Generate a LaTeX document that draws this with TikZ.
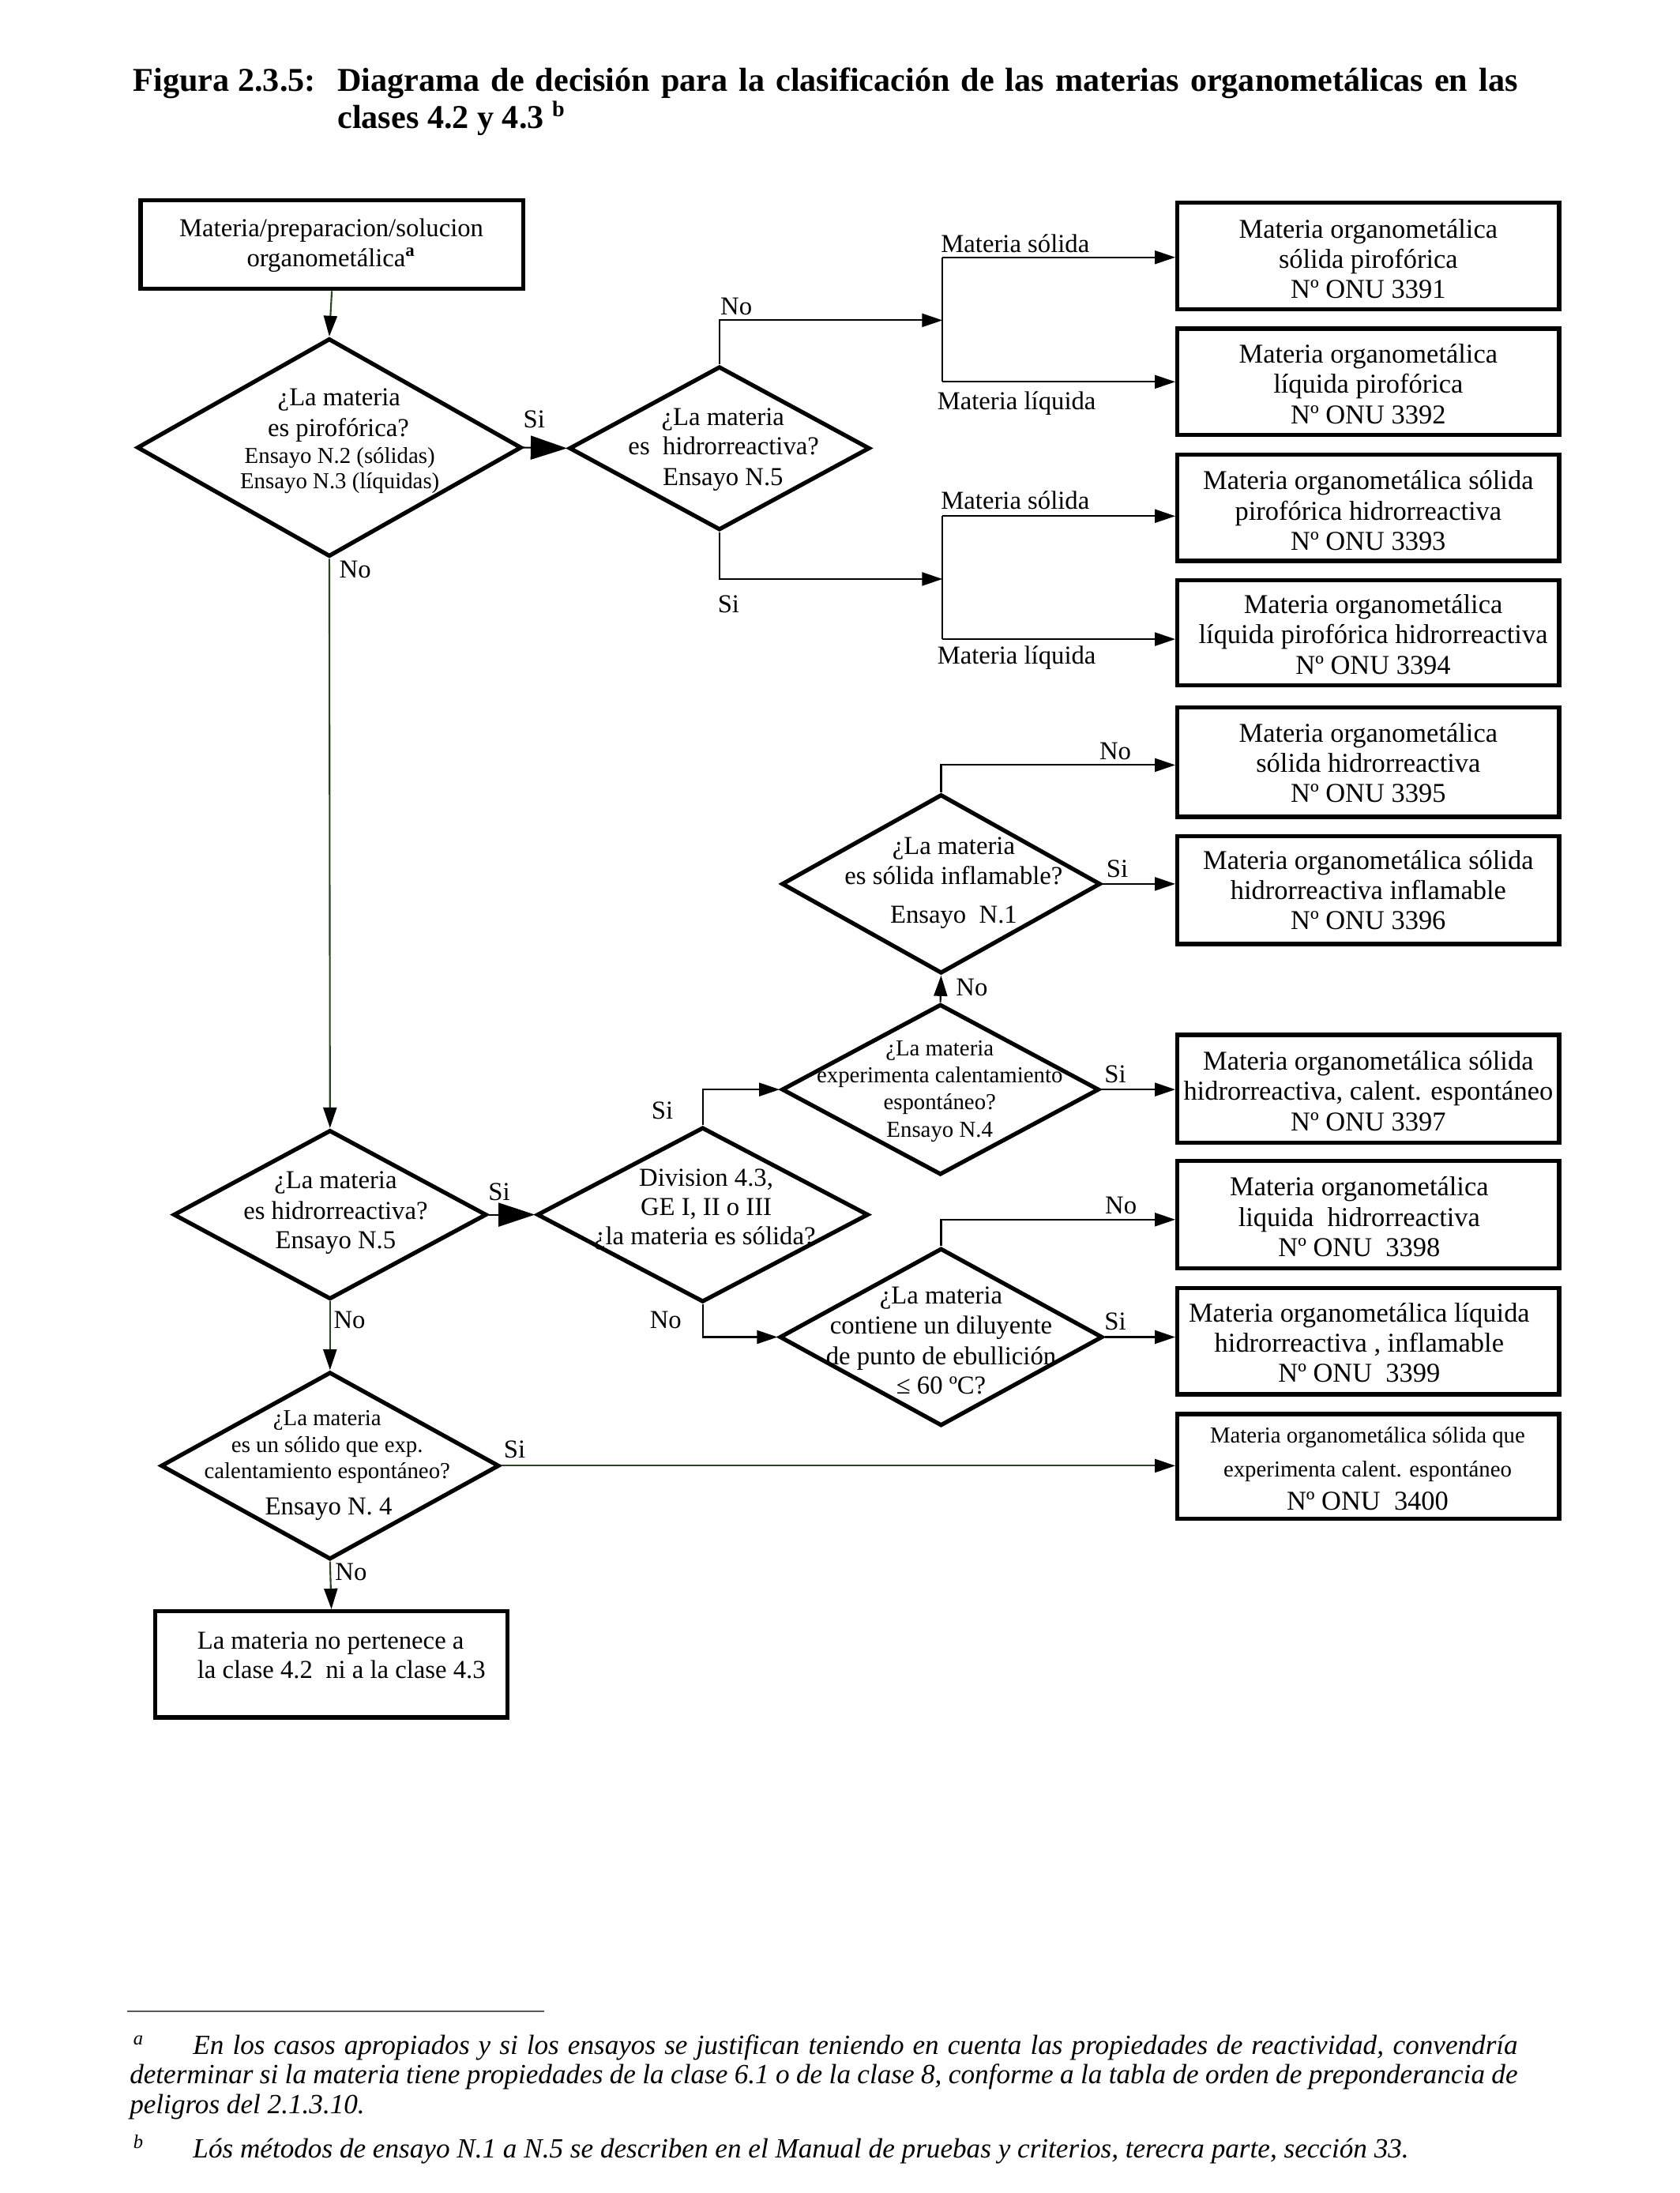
\documentclass[tikz,border=0pt]{standalone}
\usepackage{fontspec}
\setmainfont{Liberation Serif}
\usetikzlibrary{shapes.geometric,arrows.meta,fit,calc}
\definecolor{lgr}{RGB}{38,70,28}
\newcommand\bxf{\fontsize{9.8}{10.9}\selectfont}
\newcommand\dgf{\fontsize{9.3}{10.9}\selectfont}
\newcommand\smf{\fontsize{8.2}{9.6}\selectfont}
\newcommand\lbf{\fontsize{9.3}{11}\selectfont}
\def\u{0.17702mm}
\begin{document}
\begin{tikzpicture}[x=0.17702mm, y=-0.17702mm,
  bx/.style={draw, line width=1.5pt, inner sep=0pt},
  btx/.style={align=center, font=\bxf, inner sep=0pt, anchor=center},
  dia/.style={draw, diamond, line width=1.5pt, inner sep=0pt},
  tx/.style={anchor=base, inner sep=0pt, font=\dgf},
  sm/.style={anchor=base, inner sep=0pt, font=\smf},
  lb/.style={anchor=base, inner sep=0pt, font=\lbf},
  ln/.style={line width=0.6pt},
  gln/.style={line width=0.6pt, draw=lgr},
  arr/.style={-{Triangle[length=2.6mm,width=1.7mm,color=black]}},
  bigarr/.style={-{Triangle[length=4.6mm,width=3mm]}}
]
\fill[white] (0,0) rectangle (1201,1568);
\useasboundingbox (0,0) rectangle (1201,1568);

% ---------- title ----------
\node[anchor=base west, inner sep=0pt, font=\fontsize{12}{14}\selectfont\bfseries] (tfig) at (95,65) {Figura 2.3.5:};
\node[anchor=base west, inner sep=0pt, font=\fontsize{12}{14}\selectfont\bfseries] (tl1) at (241,65)
  {\makebox[149.4mm][s]{Diagrama de decisión para la clasificación de las materias organometálicas en las}};
\node[anchor=base west, inner sep=0pt, font=\fontsize{12}{14}\selectfont\bfseries] (tl2) at (241,92)
  {clases 4.2 y 4.3 \textsuperscript{b}};

% ---------- boxes ----------
\node[bx, fit={(100.6,143) (374,206.6)}] (a) {};
\node[btx, font=\dgf] (ta) at (237,175.5) {Materia/preparacion/solucion\\organometálica\textsuperscript{\textbf{a}}};
\node[bx, fit={(842,145) (1115,221)}] (o3391) {};
\node[btx] (t3391) at (978.5,185) {Materia organometálica\\sólida pirofórica\\Nº ONU 3391};
\node[bx, fit={(842,235) (1115,311)}] (o3392) {};
\node[btx] (t3392) at (978.5,274.5) {Materia organometálica\\líquida pirofórica\\Nº ONU 3392};
\node[bx, fit={(842,325) (1115,401)}] (o3393) {};
\node[btx] (t3393) at (978.5,365) {Materia organometálica sólida\\pirofórica hidrorreactiva\\Nº ONU 3393};
\node[bx, fit={(842,415) (1115,490)}] (o3394) {};
\node[btx] (t3394) at (982,453.5) {Materia organometálica\\líquida pirofórica hidrorreactiva\\Nº ONU 3394};
\node[bx, fit={(842,506) (1115,584)}] (o3395) {};
\node[btx] (t3395) at (978.5,545.5) {Materia organometálica\\sólida hidrorreactiva\\Nº ONU 3395};
\node[bx, fit={(842,598) (1115,675)}] (o3396) {};
\node[btx] (t3396) at (978.5,636.5) {Materia organometálica sólida\\hidrorreactiva inflamable\\Nº ONU 3396};
\node[bx, fit={(842,740) (1115,817)}] (o3397) {};
\node[btx] (t3397) at (978.5,780) {Materia organometálica sólida\\hidrorreactiva, calent. espontáneo\\Nº ONU 3397};
\node[bx, fit={(842,830) (1115,907)}] (o3398) {};
\node[btx] (t3398) at (972,870) {Materia organometálica\\liquida\ \ hidrorreactiva\\Nº ONU\ \ 3398};
\node[bx, fit={(842,921) (1115,997)}] (o3399) {};
\node[btx] (t3399) at (972,960) {Materia organometálica líquida\\hidrorreactiva , inflamable\\Nº ONU\ \ 3399};
\node[bx, fit={(842,1011) (1115,1086)}] (o3400) {};
\node[btx] (t3400) at (978,1050) {{\smf Materia organometálica sólida que}\\[1.5pt]{\smf experimenta calent. espontáneo}\\[1pt]Nº ONU\ \ 3400};
\node[bx, fit={(111,1152) (363,1228)}] (nb) {};
\node[tx, anchor=base west] (nbt1) at (140.7,1179) {La materia no pertenece a};
\node[tx, anchor=base west] (nbt2) at (140.7,1200) {la clase 4.2\ \ ni a la clase 4.3};

% ---------- diamonds ----------
\node[dia, minimum width=275*\u, minimum height=156*\u] (d1) at (235.5,320) {};
\node[dia, minimum width=215*\u, minimum height=117*\u] (d2) at (514.5,320.5) {};
\node[dia, minimum width=224*\u, minimum height=121*\u] (d3) at (236,868.5) {};
\node[dia, minimum width=237*\u, minimum height=125*\u] (d7) at (502.5,868.5) {};
\node[dia, minimum width=228*\u, minimum height=128*\u] (d5) at (673,632) {};
\node[dia, minimum width=227*\u, minimum height=122*\u] (d6) at (672.5,779) {};
\node[dia, minimum width=231*\u, minimum height=127*\u] (d8) at (673,956) {};
\node[dia, minimum width=242*\u, minimum height=134*\u] (d4) at (236,1048) {};

% diamond texts
\node[tx] (d1a) at (242.5,290) {¿La materia};
\node[tx] (d1b) at (242,312) {es pirofórica?};
\node[sm] (d1c) at (243,331.5) {Ensayo N.2 (sólidas)};
\node[sm] (d1d) at (243,349.5) {Ensayo N.3 (líquidas)};

\node[tx] (d2a) at (517,304) {¿La materia};
\node[tx] (d2b) at (517.5,325) {es\ \ hidrorreactiva?};
\node[tx] (d2c) at (517,347) {Ensayo N.5};

\node[tx] (d3a) at (240,850) {¿La materia};
\node[tx] (d3b) at (240,871.6) {es hidrorreactiva?};
\node[tx] (d3c) at (240,893) {Ensayo N.5};

\node[tx] (d7a) at (505,848) {Division 4.3,};
\node[tx] (d7b) at (505,869) {GE I, II o III};
\node[tx] (d7c) at (504,890) {¿la materia es sólida?};

\node[tx] (d5a) at (682,610.6) {¿La materia};
\node[tx] (d5b) at (682,632.6) {es sólida inflamable?};
\node[tx] (d5c) at (682,660) {Ensayo\ \ N.1};

\node[sm] (d6a) at (672,755) {¿La materia};
\node[sm] (d6b) at (672,774) {experimenta calentamiento};
\node[sm] (d6c) at (672,793.5) {espontáneo?};
\node[sm] (d6d) at (672,813) {Ensayo N.4};

\node[tx] (d8a) at (673,932) {¿La materia};
\node[tx] (d8b) at (673,953.8) {contiene un diluyente};
\node[tx] (d8c) at (673,976) {de punto de ebullición};
\node[tx] (d8d) at (673,996.6) {≤ 60 ºC?};

\node[sm] (d4a) at (234,1019.5) {¿La materia};
\node[sm] (d4b) at (234,1038.5) {es un sólido que exp.};
\node[sm] (d4c) at (234,1057) {calentamiento espontáneo?};
\node[tx] (d4d) at (235,1083) {Ensayo N. 4};

% ---------- connectors ----------
\draw[gln, arr] (a.south) -- (d1.north);
\draw[ln, bigarr] (d1.east) -- (d2.west);

\coordinate (b1t) at (674,184);
\coordinate (b1b) at (674,273);
\coordinate (b1m) at (674,229);
\draw[ln] (b1t) -- (b1b);
\draw[ln, arr] (d2.north) |- (b1m);
\draw[ln, arr] (b1t) -- (b1t -| o3391.west);
\draw[ln, arr] (b1b) -- (b1b -| o3392.west);

\coordinate (b2t) at (674,369);
\coordinate (b2b) at (674,457);
\coordinate (b2m) at (674,414);
\draw[ln] (b2t) -- (b2b);
\draw[ln, arr] (d2.south) |- (b2m);
\draw[ln, arr] (b2t) -- (b2t -| o3393.west);
\draw[ln, arr] (b2b) -- (b2b -| o3394.west);

\draw[ln, arr] (d5.north) |- ($(o3395.west)+(0,2)$);
\draw[ln, arr] (d5.east) -- (d5.east -| o3396.west);
\draw[ln, arr] (d6.north) -- (d5.south);
\draw[ln, arr] (d6.east) -- (d6.east -| o3397.west);

\draw[gln, arr] (d1.south) -- (d3.north);
\draw[ln, bigarr] (d3.east) -- (d7.west);
\draw[ln, arr] (d7.north) |- (d6.west);
\draw[ln, arr] (d7.south) |- (d8.west);
\draw[ln, arr] (d8.north) |- ($(o3398.west)+(0,3.5)$);
\draw[ln, arr] (d8.east) -- (d8.east -| o3399.west);

\draw[gln, arr] (d3.south) -- (d4.north);
\draw[gln, arr] (d4.east) -- (d4.east -| o3400.west);
\draw[gln, arr] (d4.south) -- (nb.north);

% ---------- labels ----------
\node[lb] (l1) at (382,306) {Si};
\node[lb] (l2) at (254,413) {No};
\node[lb] (l3) at (526.5,225) {No};
\node[lb] (l4) at (521,438) {Si};
\node[lb] (l5) at (726,180.6) {Materia sólida};
\node[lb] (l6) at (727,293) {Materia líquida};
\node[lb] (l7) at (726,364) {Materia sólida};
\node[lb] (l8) at (727,474.5) {Materia líquida};
\node[lb] (l9) at (797.6,543) {No};
\node[lb] (l10) at (799,627) {Si};
\node[lb] (l11) at (695,712) {No};
\node[lb] (l12) at (797.6,774) {Si};
\node[lb] (l13) at (801.6,868) {No};
\node[lb] (l14) at (797.6,951) {Si};
\node[lb] (l15) at (473.6,800) {Si};
\node[lb] (l16) at (476,950) {No};
\node[lb] (l17) at (357,858) {Si};
\node[lb] (l18) at (250,950) {No};
\node[lb] (l19) at (368,1042.6) {Si};
\node[lb] (l20) at (251,1130) {No};

% ---------- footnotes ----------
\draw[line width=0.7pt, gray!70!black] (91,1438) -- (389,1438);
\begin{scope}[every node/.style={anchor=base west, inner sep=0pt, font=\fontsize{10}{11}\selectfont\itshape}]
\node (fa) at (95,1469) {\textsuperscript{a}};
\node (fa1) at (137.7,1469) {\makebox[167.7mm][s]{En los casos apropiados y si los ensayos se justifican teniendo en cuenta las propiedades de reactividad, convendría}};
\node (fa2) at (92.4,1490) {\makebox[175.7mm][s]{determinar si la materia tiene propiedades de la clase 6.1 o de la clase 8, conforme a la tabla de orden de preponderancia de}};
\node (fa3) at (92.4,1511) {peligros del 2.1.3.10.};
\node (fb) at (95,1543) {\textsuperscript{b}};
\node (fb1) at (137.7,1543) {Lós métodos de ensayo N.1 a N.5 se describen en el Manual de pruebas y criterios, terecra parte, sección 33.};
\end{scope}
\end{tikzpicture}
\end{document}
